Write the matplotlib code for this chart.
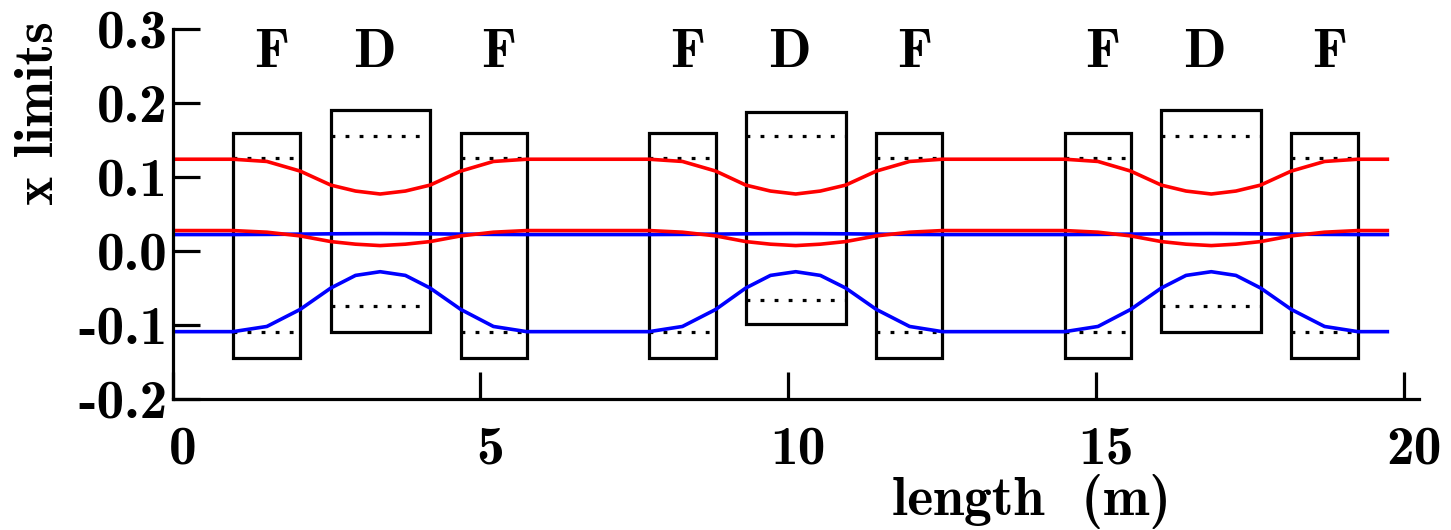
import matplotlib
matplotlib.use("Agg")
import matplotlib.pyplot as plt
from matplotlib.patches import Rectangle
from matplotlib.transforms import ScaledTranslation

plt.rcParams['font.family'] = ['cmb10', 'DejaVu Sans']
plt.rcParams['axes.unicode_minus'] = False

# magnets along the beam line
mag_kind = ['F', 'D', 'F', 'F', 'D', 'F', 'F', 'D', 'F']
mag_start = [0.98, 2.57, 4.68, 7.74, 9.31, 11.43, 14.49, 16.06, 18.17]
mag_end = [2.07, 4.18, 5.75, 8.82, 10.93, 12.50, 15.56, 17.67, 19.25]
mag_top = [0.160, 0.190, 0.160, 0.160, 0.188, 0.160, 0.160, 0.190, 0.160]
mag_bottom = [-0.144, -0.110, -0.144, -0.144, -0.099, -0.144, -0.144, -0.110, -0.144]
aper_top = [0.125, 0.156, 0.125, 0.125, 0.156, 0.125, 0.125, 0.156, 0.125]
aper_bottom = [-0.110, -0.075, -0.110, -0.110, -0.066, -0.110, -0.110, -0.075, -0.110]

# beam envelope sample points
s = [0.0,
     0.98, 1.53, 2.07, 2.57, 2.97, 3.37, 3.78, 4.18, 4.68, 5.21, 5.75,
     7.74, 8.28, 8.82, 9.31, 9.71, 10.12, 10.52, 10.93, 11.43, 11.97, 12.50,
     14.49, 15.03, 15.56, 16.06, 16.46, 16.87, 17.27, 17.67, 18.17, 18.71, 19.25,
     19.73]
red_upper = [0.124,
             0.124, 0.121, 0.108, 0.089, 0.081, 0.077, 0.081, 0.089, 0.108, 0.121, 0.124,
             0.124, 0.121, 0.108, 0.089, 0.081, 0.077, 0.081, 0.089, 0.108, 0.121, 0.124,
             0.124, 0.121, 0.108, 0.089, 0.081, 0.077, 0.081, 0.089, 0.108, 0.121, 0.124,
             0.124]
red_lower = [0.0276,
             0.0276, 0.0254, 0.0204, 0.0127, 0.0092, 0.0073, 0.0092, 0.0127, 0.0204, 0.0254, 0.0276,
             0.0276, 0.0254, 0.0204, 0.0127, 0.0092, 0.0073, 0.0092, 0.0127, 0.0204, 0.0254, 0.0276,
             0.0276, 0.0254, 0.0204, 0.0127, 0.0092, 0.0073, 0.0092, 0.0127, 0.0204, 0.0254, 0.0276,
             0.0276]
blue_upper = [0.0222,
              0.0222, 0.0224, 0.0228, 0.0232, 0.0234, 0.0235, 0.0234, 0.0232, 0.0228, 0.0224, 0.0222,
              0.0222, 0.0224, 0.0228, 0.0232, 0.0234, 0.0235, 0.0234, 0.0232, 0.0228, 0.0224, 0.0222,
              0.0222, 0.0224, 0.0228, 0.0232, 0.0234, 0.0235, 0.0234, 0.0232, 0.0228, 0.0224, 0.0222,
              0.0222]
blue_lower = [-0.109,
              -0.109, -0.102, -0.079, -0.050, -0.033, -0.028, -0.033, -0.050, -0.079, -0.102, -0.109,
              -0.109, -0.102, -0.079, -0.050, -0.033, -0.028, -0.033, -0.050, -0.079, -0.102, -0.109,
              -0.109, -0.102, -0.079, -0.050, -0.033, -0.028, -0.033, -0.050, -0.079, -0.102, -0.109,
              -0.109]

xticks = [0, 5, 10, 15, 20]
xtick_labels = ['0', '5', '10', '15', '20']
yticks = [-0.2, -0.1, 0.0, 0.1, 0.2, 0.3]
ytick_labels = ['-0.2', '-0.1', '0.0', '0.1', '0.2', '0.3']

fs = 40
lw = 2.3

fig = plt.figure(figsize=(14.51, 5.30), dpi=100)
ax = fig.add_axes([0.1190, 0.2472, 0.8592, 0.6981])

# small nudge so the letters sit over their magnets
label_nudge = {'F': 0.08, 'D': -0.1}

for i in range(len(mag_kind)):
    ax.add_patch(Rectangle((mag_start[i], mag_bottom[i]),
                           mag_end[i] - mag_start[i], mag_top[i] - mag_bottom[i],
                           fill=False, edgecolor='black', linewidth=lw,
                           joinstyle='miter'))
    for y in (aper_top[i], aper_bottom[i]):
        ax.plot([mag_start[i], mag_end[i]], [y, y], color='black', linewidth=lw,
                linestyle=(0, (1.2, 3.2)), dash_capstyle='butt')
    xc = (mag_start[i] + mag_end[i]) / 2 + label_nudge[mag_kind[i]]
    ax.text(xc, 0.249, mag_kind[i], fontsize=fs, ha='center', va='baseline')

ax.plot(s, blue_upper, color='#0000ff', linewidth=2.6)
ax.plot(s, blue_lower, color='#0000ff', linewidth=2.6)
ax.plot(s, red_upper, color='#ff0000', linewidth=2.6)
ax.plot(s, red_lower, color='#ff0000', linewidth=2.6)

ax.set_xlim(0, 20.25)
ax.set_ylim(-0.2, 0.3)
ax.spines['top'].set_visible(False)
ax.spines['right'].set_visible(False)
for side in ('left', 'bottom'):
    ax.spines[side].set_linewidth(lw)

ax.set_xticks(xticks)
ax.set_xticklabels(xtick_labels)
ax.set_yticks(yticks)
ax.set_yticklabels(ytick_labels)
ax.tick_params(axis='both', direction='in', length=19.4, width=lw, labelsize=fs)
ax.tick_params(axis='x', pad=19)
ax.tick_params(axis='y', pad=3.5)

shift = ScaledTranslation(10 / 100, 0, fig.dpi_scale_trans)
for lab in ax.get_xticklabels():
    lab.set_transform(lab.get_transform() + shift)

fig.text(53 / 1451, 1 - 113 / 530, 'x limits', fontsize=fs, rotation=90,
         rotation_mode='anchor', ha='center', va='baseline')
fig.text(1031 / 1451, 15 / 530, 'length  (m)', fontsize=fs,
         ha='center', va='baseline')

fig.savefig('out.png', dpi=100)
